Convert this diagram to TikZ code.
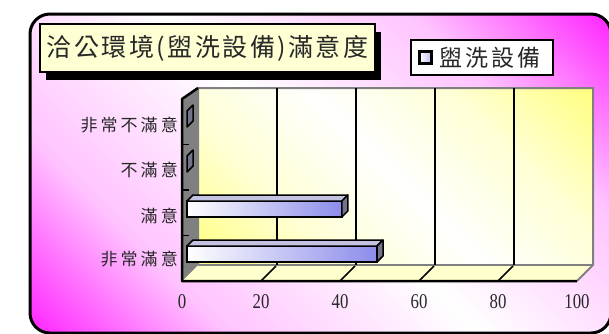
\documentclass[tikz,border=0pt]{standalone}
\usepackage{fontspec}
\usepackage{tikz}
\usetikzlibrary{positioning, shadows}
\setmainfont{Liberation Serif}
\newfontfamily\cjktitle[LetterSpace=10]{Noto Sans CJK TC}
\newfontfamily\cjklabel[LetterSpace=18]{Noto Sans CJK TC}
\newfontfamily\cjkleg[LetterSpace=13]{Noto Sans CJK TC}

\definecolor{framemag}{RGB}{255,40,255}
\colorlet{framepale}{framemag!28!white}
\definecolor{wallyel}{RGB}{255,255,130}
\colorlet{wallpale}{wallyel!35!white}
\definecolor{floorcol}{RGB}{255,255,205}
\definecolor{barblue}{RGB}{140,140,235}
\definecolor{bartop}{RGB}{195,195,225}
\definecolor{barend}{RGB}{115,115,140}
\definecolor{sidegray}{RGB}{128,128,128}
\definecolor{titlefill}{RGB}{255,255,212}
\definecolor{labeltext}{RGB}{40,40,40}

\pgfdeclarehorizontalshading{framefill}{100bp}{color(0bp)=(framemag); color(15bp)=(framemag); color(30bp)=(framepale); color(50bp)=(white); color(70bp)=(framepale); color(85bp)=(framemag); color(100bp)=(framemag)}
\pgfdeclarehorizontalshading{wallfill}{100bp}{color(0bp)=(wallyel); color(15bp)=(wallyel); color(32bp)=(wallpale); color(50bp)=(white); color(68bp)=(wallpale); color(85bp)=(wallyel); color(100bp)=(wallyel)}

\begin{document}
\begin{tikzpicture}[x=1pt,y=-1pt]
    \useasboundingbox (0,0) rectangle (609,333);

    % outer frame
    \path[shading=framefill, shading angle=45, rounded corners=20pt] (30,14) rectangle (611,333);
    \draw[line width=3pt, rounded corners=20pt] (30,14) rectangle (611,333);

    % walls and floor
    \path[shading=wallfill, shading angle=45] (198,88) rectangle (593,265);
    \fill[floorcol] (182,281) -- (198,265) -- (593,265) -- (577,281) -- cycle;
    \fill[sidegray] (182,99) -- (198,88) -- (198,265) -- (182,281) -- cycle;
    \draw[gray, line width=2pt] (198,265) -- (198,88) -- (593,88) -- (593,265) -- (577,281);
    \draw[gray, line width=1.5pt] (198,265) -- (593,265);

    \foreach \k in {1,...,4}
      \draw[line width=1.5pt] (198+79*\k,88) -- (198+79*\k,265);
    \foreach \k in {1,...,4}
      \draw[line width=1.5pt] (182+79*\k,281) -- (197+79*\k,266);

    \draw[line width=2.5pt, line join=round] (198,88) -- (182,99) -- (182,281) -- (577,281);
    \foreach \t in {144.5,190,235.5}
      \draw[line width=1.5pt] (182,\t) -- (189,\t);

    % bars
    \foreach \y/\v in {201/39.2, 246/48.1} {
      \pgfmathsetmacro\e{187+3.95*\v}
      \shade[left color=white, right color=barblue, draw=black, line width=1.5pt]
        (187,\y) rectangle (\e,\y+16);
      \filldraw[fill=bartop, line width=1.5pt, line join=round]
        (187,\y) -- (193,\y-6) -- (\e+6,\y-6) -- (\e,\y) -- cycle;
    }
    \foreach \y/\v in {111/0, 156/0, 201/39.2, 246/48.1} {
      \pgfmathsetmacro\e{187+3.95*\v}
      \filldraw[fill=barend, line width=1.5pt, line join=round]
        (\e,\y) -- (\e+6,\y-6) -- (\e+6,\y+10) -- (\e,\y+16) -- cycle;
    }

    % category labels
    \coordinate (ax1) at (182,125);
    \coordinate (ax2) at (182,170);
    \coordinate (ax3) at (182,216);
    \coordinate (ax4) at (182,259);
    \node (lab1) [left=4pt of ax1, inner sep=0pt, text=labeltext, font=\cjklabel\fontsize{17}{17}\selectfont] {非常不滿意};
    \node (lab2) [left=4pt of ax2, inner sep=0pt, text=labeltext, font=\cjklabel\fontsize{17}{17}\selectfont] {不滿意};
    \node (lab3) [left=4pt of ax3, inner sep=0pt, text=labeltext, font=\cjklabel\fontsize{17}{17}\selectfont] {滿意};
    \node (lab4) [left=4pt of ax4, inner sep=0pt, text=labeltext, font=\cjklabel\fontsize{17}{17}\selectfont] {非常滿意};

    % value labels
    \foreach \k/\n in {0/0, 1/20, 2/40, 3/60, 4/80, 5/100}
      \node[xscale=.8, inner sep=0pt, text=labeltext, font=\fontsize{21}{21}\selectfont] (num\n) at (182+79*\k,302) {\n};

    % title
    \node[draw, line width=2.5pt, fill=titlefill, minimum width=335pt, minimum height=48pt, inner sep=0pt,
          drop shadow={shadow xshift=6pt, shadow yshift=-8pt, fill=black, opacity=1},
          font=\cjktitle\fontsize{25}{25}\selectfont, text=labeltext] (title) at (207.5,48) {洽公環境(盥洗設備)滿意度};

    % legend
    \node[draw, line width=2.5pt, fill=white, minimum width=142pt, minimum height=35pt] (legend) at (482,57.5) {};
    \node[draw, line width=2.5pt, minimum size=12pt, inner sep=0pt, left color=white, right color=barblue!60] (legmark) at (425.5,57.5) {};
    \node (legtext) [right=7pt of legmark, inner sep=0pt, text=labeltext, font=\cjkleg\fontsize{23}{23}\selectfont] {盥洗設備};
\end{tikzpicture}
\end{document}
